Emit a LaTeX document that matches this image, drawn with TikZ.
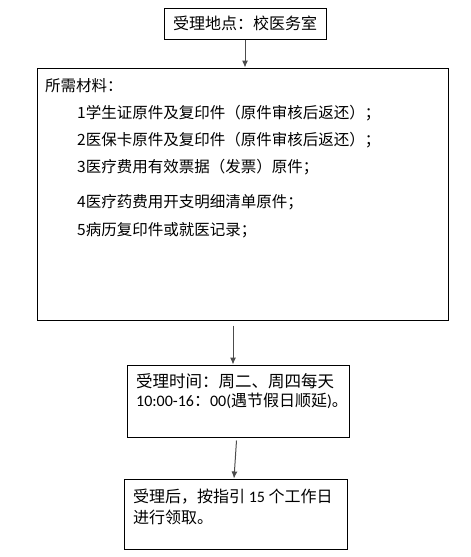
\documentclass[tikz,border=0pt]{standalone}
\usepackage{fontspec}
\setmainfont{Noto Sans CJK SC}
\newfontfamily\latinfont{Carlito}
\usetikzlibrary{arrows.meta}

\begin{document}
\begin{tikzpicture}[x=1pt,y=-1pt,
    box/.style={draw=black,line width=1pt,inner sep=0pt},
    flow/.style={draw=black!70,line width=1pt,-{Latex[length=7pt,width=6pt]}},
    txt/.style={anchor=west,inner sep=0pt,font=\fontsize{15.5}{18}\selectfont}]
    \useasboundingbox (0,0) rectangle (471,557);
    % place
    \node [box,minimum width=162pt,minimum height=31pt,font=\fontsize{16}{18}\selectfont] (place) at (245,23.5) {受理地点：校医务室};
    % materials
    \node [box,minimum width=411pt,minimum height=252pt] (mats) at (242.5,194) {};
    \node [txt] (head) at (45,86) {所需材料：};
    \node [txt] (item1) at (77,113) {1学生证原件及复印件（原件审核后返还）；};
    \node [txt] (item2) at (77,140) {2医保卡原件及复印件（原件审核后返还）；};
    \node [txt] (item3) at (77,167) {3医疗费用有效票据（发票）原件；};
    \node [txt] (item4) at (77,202) {4医疗药费用开支明细清单原件；};
    \node [txt] (item5) at (77,230) {5病历复印件或就医记录；};
    % time
    \node [box,minimum width=222pt,minimum height=72pt] (time) at (238,401) {};
    \node [txt,font=\fontsize{16.5}{18}\selectfont] (time1) at (136,381) {受理时间：周二、周四每天};
    \node [txt,font=\fontsize{16}{18}\selectfont] (time2) at (136,401) {{\latinfont 10:00-16}：{\latinfont 00(}遇节假日顺延{\latinfont )}。};
    % pickup
    \node [box,minimum width=223pt,minimum height=70pt] (pick) at (235.5,514) {};
    \node [txt,font=\fontsize{16}{18}\selectfont] (pick1) at (133,497) {受理后，按指引 {\latinfont 15} 个工作日};
    \node [txt,font=\fontsize{16}{18}\selectfont] (pick2) at (133,517) {进行领取。};
    % arrows
    \draw [flow] (place.south) -- (place.south |- mats.north);
    \draw [flow] ([xshift=-5pt,yshift=-5pt]time.north |- mats.south) -- ([xshift=-5pt]time.north);
    \draw [flow] ([xshift=-1.5pt,yshift=-3pt]time.south) -- ([xshift=-1.5pt]pick.north);
\end{tikzpicture}
\end{document}
